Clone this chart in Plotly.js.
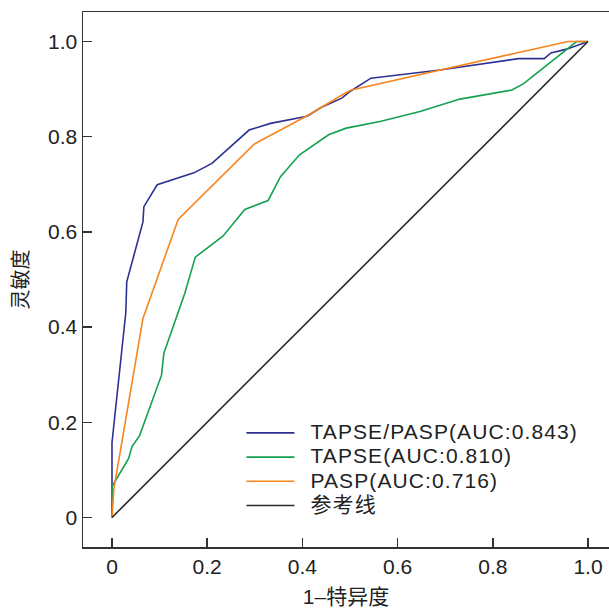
<!DOCTYPE html>
<html>
<head>
<meta charset="utf-8">
<script src="https://cdn.plot.ly/plotly-3.0.1.min.js"></script>
<style>
html, body { margin: 0; padding: 0; background: #fff; }
#chart { width: 609px; height: 608px; }
#chart .legendtext { font-size: 21px !important; letter-spacing: 1.1px; transform: translateX(11px); }
#chart .legend .scrollbox { clip-path: none !important; }
</style>
</head>
<body>
<div id="chart"></div>
<script>
// ROC curve data
const ratioFPR = [0, 0, 0, 0.029, 0.031, 0.065, 0.067, 0.095, 0.172, 0.21, 0.288, 0.333, 0.41, 0.44, 0.483, 0.5, 0.544, 0.689, 0.854, 0.908, 0.922, 0.955, 1.0];
const ratioTPR = [0, 0.064, 0.157, 0.43, 0.495, 0.621, 0.653, 0.699, 0.724, 0.744, 0.814, 0.828, 0.843, 0.862, 0.881, 0.895, 0.923, 0.94, 0.964, 0.964, 0.976, 0.984, 1.0];

const tapseFPR = [0, 0, 0.035, 0.042, 0.058, 0.104, 0.109, 0.153, 0.175, 0.233, 0.279, 0.328, 0.354, 0.394, 0.455, 0.492, 0.563, 0.647, 0.731, 0.84, 0.864, 0.976, 1.0];
const tapseTPR = [0, 0.065, 0.124, 0.149, 0.172, 0.299, 0.345, 0.471, 0.547, 0.591, 0.647, 0.666, 0.716, 0.762, 0.804, 0.818, 0.832, 0.853, 0.879, 0.898, 0.911, 1.0, 1.0];

const paspFPR = [0, 0.004, 0.065, 0.139, 0.298, 0.408, 0.494, 0.503, 0.85, 0.958, 1.0];
const paspTPR = [0, 0.06, 0.418, 0.626, 0.784, 0.843, 0.894, 0.898, 0.976, 1.0, 1.0];

const refX = [0, 1];
const refY = [0, 1];

const seriesNames = ["TAPSE/PASP(AUC:0.843)", "TAPSE(AUC:0.810)", "PASP(AUC:0.716)", "参考线"];
const tickVals = [0, 0.2, 0.4, 0.6, 0.8, 1.0];
const tickText = ["0", "0.2", "0.4", "0.6", "0.8", "1.0"];
const xTitle = "1–特异度";
const yTitle = "灵敏度";

const FONT = "Liberation Sans, Arial, Noto Sans CJK SC, sans-serif";
const colors = ["#2E3192", "#13A151", "#F7851E", "#2b2b2b"];

const traces = [
  {x: ratioFPR, y: ratioTPR, name: seriesNames[0], mode: "lines", line: {color: colors[0], width: 1.6}},
  {x: tapseFPR, y: tapseTPR, name: seriesNames[1], mode: "lines", line: {color: colors[1], width: 1.6}},
  {x: paspFPR, y: paspTPR, name: seriesNames[2], mode: "lines", line: {color: colors[2], width: 1.6}},
  {x: refX, y: refY, name: seriesNames[3], mode: "lines", line: {color: colors[3], width: 1.6}}
];

const axisCommon = {
  tickvals: tickVals, ticktext: tickText,
  ticks: "inside", ticklen: 9, tickwidth: 1.5, tickcolor: "#333",
  showline: true, linecolor: "#333", linewidth: 1.5,
  showgrid: false, zeroline: false,
  tickfont: {family: FONT, size: 21, color: "#222"}
};

const layout = {
  width: 609, height: 608,
  margin: {l: 83, r: 0, t: 12, b: 61},
  paper_bgcolor: "#fff", plot_bgcolor: "#fff",
  showlegend: true,
  legend: {
    x: 0.3012, y: 0.2452, xanchor: "left", yanchor: "top",
    font: {family: FONT, size: 16.3, color: "#222"},
    bgcolor: "rgba(0,0,0,0)", itemwidth: 48, traceorder: "normal",
    entrywidth: 330, entrywidthmode: "pixels"
  },
  xaxis: Object.assign({}, axisCommon, {
    range: [-0.0609, 1.0441], mirror: true,
    title: {text: xTitle, font: {family: FONT, size: 21, color: "#222"}, standoff: 14}
  }),
  yaxis: Object.assign({}, axisCommon, {
    range: [-0.062, 1.062], mirror: false,
    title: {text: yTitle, font: {family: FONT, size: 20, color: "#222"}, standoff: 14}
  })
};

Plotly.newPlot("chart", traces, layout, {displayModeBar: false, staticPlot: true});
</script>
</body>
</html>
